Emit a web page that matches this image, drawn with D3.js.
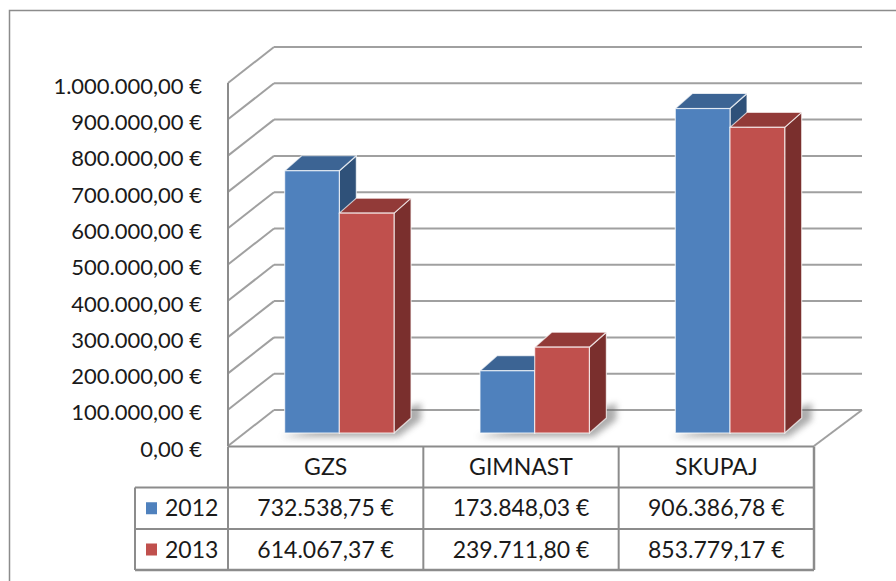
<!DOCTYPE html>
<html>
<head>
<meta charset="utf-8">
<script src="https://cdn.jsdelivr.net/npm/d3@7"></script>
<style>
    html, body { margin: 0; padding: 0; background: #fff; }
    svg { display: block; font-family: Lato, "Open Sans", sans-serif; }
</style>
</head>
<body>
<div id="chart"></div>
<script>

// chart data
const categories = ['GZS', 'GIMNAST', 'SKUPAJ'];
const years = ['2012', '2013'];
const values2012 = [732538.75, 173848.03, 906386.78];
const values2013 = [614067.37, 239711.80, 853779.17];
const yTicks = [0, 100000, 200000, 300000, 400000, 500000, 600000, 700000, 800000, 900000, 1000000];

const seriesValues = [values2012, values2013];

const w = 896;
const h = 581;

// colours for front / top / side of each series
const faces = [
    {front: '#4f81bd', top: '#3c6494', side: '#2f5179'},
    {front: '#c0504d', top: '#923a38', side: '#7a2f2d'}
];

// euro locale
const locale = d3.formatLocale({
    decimal: ',',
    thousands: '.',
    grouping: [3],
    currency: ['', ' €']
});
const fmt = locale.format('$,.2f');

// 3d geometry of the plot box
const depthX = 46;
const depthY = 36;
const left = 228;
const right = 814;

const yFront = d3.scaleLinear()
    .domain([0, 1000000])
    .range([446, 83]);

// bars stand a bit behind the front edge of the floor
const yBar = d3.scaleLinear()
    .domain([0, 1000000])
    .range([433, 75]);

const xBand = d3.scaleBand()
    .domain(categories)
    .range([left, right])
    .padding(0);

const barDx = 17;
const barDy = 15;

const svg = d3.select('#chart')
    .append('svg')
    .attr('width', w)
    .attr('height', h);

const defs = svg.append('defs');
defs.append('filter')
    .attr('id', 'shadow')
    .attr('x', '-20%').attr('y', '-20%')
    .attr('width', '140%').attr('height', '140%')
    .append('feGaussianBlur')
    .attr('stdDeviation', 3);

// outer frame
svg.append('rect')
    .attr('x', 9.5)
    .attr('y', 10.5)
    .attr('width', 950)
    .attr('height', 650)
    .attr('fill', 'none')
    .attr('stroke', '#8c8c8c')
    .attr('stroke-width', 1.5);

const grid = svg.append('g').attr('class', 'grid');

// back wall lines
grid.selectAll('.back')
    .data(yTicks)
    .enter()
    .append('line')
    .attr('class', 'back')
    .attr('x1', left + depthX)
    .attr('x2', right + depthX + 2)
    .attr('y1', d => yFront(d) - depthY)
    .attr('y2', d => yFront(d) - depthY)
    .attr('stroke', '#a0a0a0')
    .attr('stroke-width', 2);

// side wall lines
grid.selectAll('.side')
    .data(yTicks)
    .enter()
    .append('line')
    .attr('class', 'side')
    .attr('x1', left)
    .attr('x2', left + depthX)
    .attr('y1', d => yFront(d))
    .attr('y2', d => yFront(d) - depthY)
    .attr('stroke', '#a0a0a0')
    .attr('stroke-width', 2);

// floor right edge
grid.append('line')
    .attr('x1', right)
    .attr('y1', yFront(0))
    .attr('x2', right + depthX + 2)
    .attr('y2', yFront(0) - depthY)
    .attr('stroke', '#a0a0a0')
    .attr('stroke-width', 2);

// front vertical edge of side wall
grid.append('line')
    .attr('x1', left)
    .attr('x2', left)
    .attr('y1', yFront(1000000))
    .attr('y2', yFront(0))
    .attr('stroke', '#8c8c8c')
    .attr('stroke-width', 2);

// bar layout
const bw = xBand.bandwidth();
const barW = bw * 0.28;
const barData = [];
categories.forEach((c, i) => {
    seriesValues.forEach((vals, s) => {
        barData.push({
            cat: c,
            series: s,
            value: vals[i],
            x: xBand(c) + bw * 0.29 + s * barW
        });
    });
});

// soft shadows on the floor
const shadows = svg.append('g').attr('class', 'shadows');
categories.forEach(c => {
    const x0 = xBand(c) + bw * 0.29;
    const x1 = x0 + barW * 2;
    const y0 = yBar(0);
    shadows.append('polygon')
        .attr('points', [
            [x0 - 4, y0 + 4],
            [x1 + 4, y0 + 4],
            [x1 + barDx + 10, y0 - barDy + 2],
            [x1 + barDx + 10, y0 - 30],
            [x1, y0 - 20]
        ].join(' '))
        .attr('fill', '#6a6a6a')
        .attr('opacity', 0.55)
        .attr('filter', 'url(#shadow)');
});

// bars
const bars = svg.append('g').attr('class', 'bars')
    .selectAll('g')
    .data(barData)
    .enter()
    .append('g');

bars.append('polygon')
    .attr('points', d => {
        const x1 = d.x + barW;
        return [
            [x1, yBar(d.value)],
            [x1 + barDx, yBar(d.value) - barDy],
            [x1 + barDx, yBar(0) - barDy],
            [x1, yBar(0)]
        ].join(' ');
    })
    .attr('fill', d => faces[d.series].side)
    .attr('stroke', '#fff')
    .attr('stroke-opacity', 0.7)
    .attr('stroke-width', 1.2)
    .attr('stroke-linejoin', 'round');

bars.append('polygon')
    .attr('points', d => {
        const x1 = d.x + barW;
        const t = yBar(d.value);
        return [
            [d.x, t],
            [d.x + barDx, t - barDy],
            [x1 + barDx, t - barDy],
            [x1, t]
        ].join(' ');
    })
    .attr('fill', d => faces[d.series].top)
    .attr('stroke', '#fff')
    .attr('stroke-opacity', 0.7)
    .attr('stroke-width', 1.2)
    .attr('stroke-linejoin', 'round');

bars.append('rect')
    .attr('x', d => d.x)
    .attr('y', d => yBar(d.value))
    .attr('width', barW)
    .attr('height', d => yBar(0) - yBar(d.value))
    .attr('fill', d => faces[d.series].front)
    .attr('stroke', '#fff')
    .attr('stroke-opacity', 0.7)
    .attr('stroke-width', 1.2);

// y axis labels
svg.append('g')
    .attr('class', 'y-labels')
    .selectAll('text')
    .data(yTicks)
    .enter()
    .append('text')
    .attr('x', 202)
    .attr('y', d => yFront(d) + 3)
    .attr('dy', '0.35em')
    .attr('text-anchor', 'end')
    .attr('font-size', 22)
    .attr('fill', '#1a1a1a')
    .text(d => fmt(d));

// data table
const rowY = [446.5, 487.5, 529, 570];
const legendX = 135;
const table = svg.append('g').attr('class', 'table');

// horizontal lines
table.append('line')
    .attr('x1', left).attr('x2', right)
    .attr('y1', rowY[0]).attr('y2', rowY[0])
    .attr('stroke', '#8c8c8c').attr('stroke-width', 2);
table.selectAll('.hline')
    .data(rowY.slice(1))
    .enter()
    .append('line')
    .attr('class', 'hline')
    .attr('x1', legendX).attr('x2', right)
    .attr('y1', d => d).attr('y2', d => d)
    .attr('stroke', '#8c8c8c')
    .attr('stroke-width', (d, i) => i === 2 ? 2.5 : 2);

// vertical lines
table.append('line')
    .attr('x1', legendX).attr('x2', legendX)
    .attr('y1', rowY[1]).attr('y2', rowY[3])
    .attr('stroke', '#8c8c8c').attr('stroke-width', 2);
table.selectAll('.vline')
    .data(categories.map(c => xBand(c)).concat([right]))
    .enter()
    .append('line')
    .attr('class', 'vline')
    .attr('x1', d => d).attr('x2', d => d)
    .attr('y1', rowY[0]).attr('y2', rowY[3])
    .attr('stroke', '#8c8c8c')
    .attr('stroke-width', (d, i) => i === 3 ? 2.5 : 2);

// header
table.selectAll('.head')
    .data(categories)
    .enter()
    .append('text')
    .attr('class', 'head')
    .attr('x', d => xBand(d) + bw / 2)
    .attr('y', (rowY[0] + rowY[1]) / 2)
    .attr('dy', '0.35em')
    .attr('text-anchor', 'middle')
    .attr('font-size', 23)
    .attr('fill', '#1a1a1a')
    .text(d => d);

// legend + values
years.forEach((yr, s) => {
    const cy = (rowY[s + 1] + rowY[s + 2]) / 2;
    table.append('rect')
        .attr('x', 146)
        .attr('y', cy - 6)
        .attr('width', 11)
        .attr('height', 12)
        .attr('fill', faces[s].front);
    table.append('text')
        .attr('x', 165)
        .attr('y', cy)
        .attr('dy', '0.35em')
        .attr('font-size', 23)
        .attr('fill', '#1a1a1a')
        .text(yr);
    table.selectAll('.val' + s)
        .data(seriesValues[s])
        .enter()
        .append('text')
        .attr('x', (d, i) => xBand(categories[i]) + bw / 2)
        .attr('y', cy)
        .attr('dy', '0.35em')
        .attr('text-anchor', 'middle')
        .attr('font-size', 23)
        .attr('fill', '#1a1a1a')
        .text(d => fmt(d));
});

</script>
</body>
</html>
